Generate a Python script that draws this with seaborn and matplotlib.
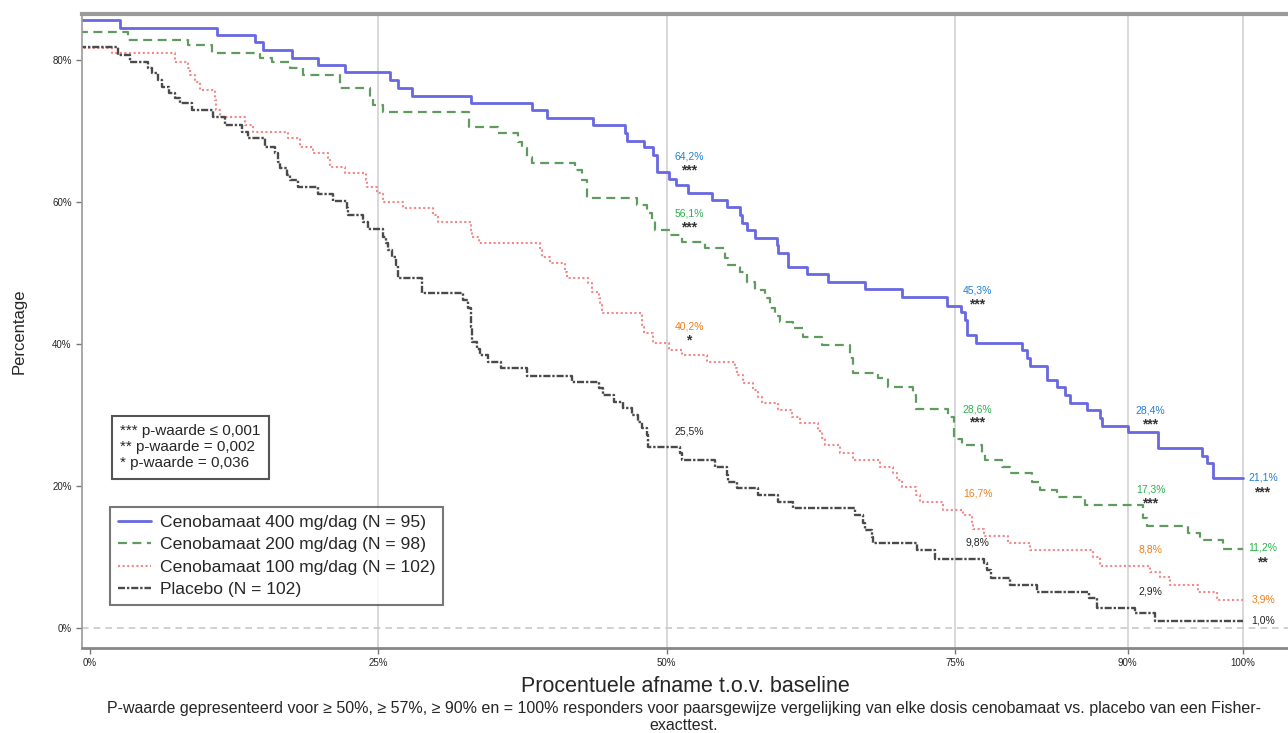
import matplotlib
matplotlib.use("Agg")
import matplotlib.pyplot as plt
import seaborn as sns
import pandas as pd

# Responder curves: x = procentuele afname, y = % patienten (stapfunctie)
x400 = [-1, 2.6, 11.0, 14.3, 15.0, 17.5, 19.8, 22.1, 26.0, 26.7, 27.9, 33.0, 38.3, 39.6, 43.6, 46.4,
        46.6, 48.0, 48.8, 49.2, 50.2, 50.8, 51.9, 53.9, 55.2, 56.4, 56.5, 57.0, 57.7, 59.6, 59.7, 60.5,
        62.2, 64.0, 67.2, 70.4, 74.3, 75.5, 75.9, 76.1, 76.8, 80.8, 81.3, 81.5, 83.0, 83.9, 84.6, 85.0,
        86.5, 87.6, 87.8, 90.0, 92.6, 96.4, 96.9, 97.4, 100]
y400 = [85.6, 84.5, 83.5, 82.5, 81.4, 80.3, 79.3, 78.3, 77.2, 76.0, 75.0, 73.9, 73.0, 71.8, 70.8, 69.7,
        68.6, 67.7, 66.6, 64.2, 63.2, 62.4, 61.3, 60.3, 59.3, 58.2, 57.0, 56.0, 54.9, 53.9, 52.8, 50.8,
        49.9, 48.7, 47.7, 46.6, 45.3, 44.5, 43.4, 41.3, 40.1, 39.2, 38.0, 36.9, 34.9, 33.9, 32.8, 31.7,
        30.7, 29.6, 28.4, 27.6, 25.4, 24.2, 23.3, 21.1, 21.1]

x200 = [-1, 3.3, 8.5, 10.6, 14.7, 15.8, 17.3, 18.5, 21.7, 24.3, 24.5, 25.4, 32.9, 35.4, 37.1, 37.5,
        37.9, 38.3, 42.1, 42.7, 43.1, 47.4, 48.3, 48.7, 49.0, 50.3, 51.3, 53.3, 55.1, 55.3, 56.4, 57.0,
        57.7, 58.5, 59.0, 59.4, 59.8, 61.0, 61.8, 63.5, 65.9, 66.2, 68.3, 69.2, 71.4, 71.6, 74.4, 74.9,
        75.6, 77.4, 77.6, 79.1, 79.8, 81.7, 82.4, 83.9, 86.3, 91.3, 91.7, 95.2, 96.3, 98.3, 100]
y200 = [83.9, 82.8, 82.1, 81.0, 80.3, 79.7, 78.9, 77.9, 76.0, 74.8, 73.7, 72.7, 70.6, 69.7, 68.5, 67.6,
        66.3, 65.5, 64.5, 63.1, 60.6, 59.6, 58.5, 57.5, 56.1, 55.4, 54.4, 53.5, 52.1, 51.1, 50.1, 48.7,
        47.6, 46.5, 45.1, 44.0, 43.1, 42.3, 41.0, 39.9, 38.0, 35.9, 35.2, 33.9, 32.8, 30.8, 29.7, 26.6,
        25.8, 24.6, 23.7, 22.7, 21.8, 20.6, 19.4, 18.5, 17.3, 15.5, 14.4, 13.4, 12.4, 11.2, 11.2]

x100 = [-1, 1.9, 7.4, 8.5, 8.7, 9.1, 9.5, 10.8, 10.9, 11.3, 13.4, 14.1, 17.2, 18.2, 19.3, 20.6, 20.8,
        22.1, 23.9, 24.0, 24.9, 25.4, 27.1, 29.7, 30.2, 33.0, 33.1, 33.7, 39.0, 39.2, 39.9, 41.2, 41.4,
        43.2, 43.5, 44.1, 44.2, 44.4, 47.9, 48.0, 48.8, 50.2, 51.3, 53.5, 55.9, 56.1, 56.6, 57.5, 57.9,
        58.3, 59.7, 60.9, 61.6, 63.1, 63.5, 63.7, 65.0, 66.2, 68.5, 69.6, 70.0, 70.4, 71.6, 72.0, 74.0,
        75.7, 76.5, 76.6, 77.5, 79.6, 81.5, 87.0, 87.6, 91.9, 92.8, 93.7, 96.1, 97.7, 100]
y100 = [81.7, 81.0, 79.7, 78.9, 77.9, 76.9, 75.8, 74.4, 73.0, 72.0, 70.8, 69.9, 69.0, 67.7, 66.9, 66.2,
        64.9, 64.1, 63.1, 62.1, 61.3, 60.0, 59.2, 58.2, 57.2, 56.1, 55.1, 54.2, 53.2, 52.3, 51.4, 50.1,
        49.3, 48.6, 47.3, 46.5, 45.5, 44.4, 42.4, 41.5, 40.2, 39.2, 38.5, 37.5, 36.6, 35.6, 34.5, 33.6,
        32.5, 31.7, 30.7, 29.7, 28.9, 27.7, 26.8, 25.8, 24.7, 23.7, 22.7, 21.8, 20.8, 19.9, 18.8, 17.7,
        16.7, 15.9, 14.9, 13.9, 13.0, 12.0, 11.0, 10.0, 8.8, 7.9, 7.2, 6.1, 5.1, 3.9, 3.9]

xpbo = [-1, 2.4, 3.5, 5.0, 5.4, 5.9, 6.2, 6.8, 7.4, 7.8, 8.8, 10.7, 11.7, 13.2, 13.7, 15.2, 16.0, 16.3,
        16.5, 17.1, 17.3, 18.0, 19.8, 21.1, 22.3, 22.4, 23.7, 24.1, 25.4, 25.7, 25.8, 26.2, 26.5, 26.7,
        28.8, 32.3, 32.8, 33.0, 33.1, 33.6, 33.8, 34.5, 35.6, 37.9, 41.8, 44.1, 44.5, 45.4, 46.2, 47.0,
        47.5, 47.9, 48.3, 48.4, 51.2, 51.3, 54.2, 55.2, 55.3, 56.1, 57.9, 59.7, 61.0, 66.3, 67.0, 67.2,
        67.8, 67.9, 71.7, 73.3, 77.5, 77.8, 78.1, 79.8, 82.1, 86.6, 87.3, 90.6, 92.4, 100]
ypbo = [81.8, 80.7, 79.7, 78.9, 78.2, 77.2, 76.2, 75.4, 74.6, 73.9, 73.0, 72.0, 70.8, 69.9, 69.0, 67.7,
        66.9, 65.6, 64.8, 63.8, 63.1, 62.1, 61.1, 60.1, 59.2, 58.2, 57.2, 56.2, 55.1, 54.2, 53.2, 52.3,
        51.1, 49.3, 47.2, 46.2, 45.1, 42.4, 40.3, 39.3, 38.5, 37.5, 36.6, 35.5, 34.6, 33.8, 32.8, 31.8,
        31.0, 30.0, 29.0, 28.2, 27.2, 25.5, 24.6, 23.7, 22.7, 21.5, 20.6, 19.7, 18.7, 17.7, 16.9, 15.9,
        14.8, 13.8, 12.8, 12.0, 11.0, 9.8, 9.2, 8.2, 7.0, 6.1, 5.1, 4.2, 2.9, 2.1, 1.0, 1.0]

groups = ["Cenobamaat 400 mg/dag (N = 95)", "Cenobamaat 200 mg/dag (N = 98)",
          "Cenobamaat 100 mg/dag (N = 102)", "Placebo (N = 102)"]

# responderpercentages en p-waarde sterren bij >= 50%, 75%, 90% en 100%
thresholds = [50, 75, 90, 100]
lbl400 = [64.2, 45.3, 28.4, 21.1]
lbl200 = [56.1, 28.6, 17.3, 11.2]
lbl100 = [40.2, 16.7, 8.8, 3.9]
lblpbo = [25.5, 9.8, 2.9, 1.0]
stars400 = ["***", "***", "***", "***"]
stars200 = ["***", "***", "***", "**"]
stars100 = ["*", "", "", ""]
starspbo = ["", "", "", ""]

xticks = [0, 25, 50, 75, 90, 100]
yticks = [0, 20, 40, 60, 80]

line_colors = ["#6868e2", "#5f9a5f", "#f08a8a", "#4a4a4a"]
line_styles = ["-", (0, (4, 2.5)), (0, (1, 1.2)), (0, (3, 0.8, 1, 0.8))]
line_widths = [2.0, 1.6, 1.5, 1.7]
label_colors = ["#1f7fd6", "#2ab24c", "#f07d1a", "#222222"]

sns.set_style("white")
plt.rcParams["font.family"] = ["Liberation Sans", "DejaVu Sans"]

fig, ax = plt.subplots(figsize=(12.88, 7.33), dpi=100)
fig.subplots_adjust(left=0.0637, right=1.0, top=0.981, bottom=0.116)

for xv in xticks[1:]:
    ax.axvline(xv, color="#d6d6d6", lw=1.3, zorder=0)
ax.axhline(0, color="#c8c8c8", lw=1.2, ls=(0, (4, 3)), zorder=0)

series = [(x400, y400), (x200, y200), (x100, y100), (xpbo, ypbo)]
for (xs, ys), name, col, ls, lw in zip(series, groups, line_colors, line_styles, line_widths):
    df = pd.DataFrame({"afname": xs, "pct": ys})
    sns.lineplot(data=df, x="afname", y="pct", ax=ax, color=col, linestyle=ls, lw=lw,
                 drawstyle="steps-post", estimator=None, sort=False, label=name)

labels = [lbl400, lbl200, lbl100, lblpbo]
stars = [stars400, stars200, stars100, starspbo]
for vals, sts, col in zip(labels, stars, label_colors):
    for thr, v, s in zip(thresholds, vals, sts):
        txt = f"{v:.1f}".replace(".", ",") + "%"
        if thr < 100:
            lab_off, star_off = (16.5, 11.5), (16.0, 1.5)
        else:
            lab_off, star_off = (14.5, 0.5), (14.0, -10.0)
        ax.annotate(txt, xy=(thr, v), xytext=lab_off, textcoords="offset points",
                    ha="center", va="center", fontsize=7.5, color=col)
        if s:
            ax.annotate(s, xy=(thr, v), xytext=star_off, textcoords="offset points",
                        ha="center", va="center", fontsize=10, color="#333333",
                        fontweight="bold")

ax.set_xlim(-0.7, 103.9)
ax.set_ylim(-2.8, 86.5)
ax.set_xticks(xticks)
ax.set_xticklabels([f"{t}%" for t in xticks])
ax.set_yticks(yticks)
ax.set_yticklabels([f"{t}%" for t in yticks])
ax.tick_params(axis="both", labelsize=7, length=4, width=1, color="#777777",
               bottom=True, left=True)

ax.spines["right"].set_visible(False)
ax.spines["top"].set_color("#9a9a9a")
ax.spines["top"].set_linewidth(3)
ax.spines["left"].set_color("#9a9a9a")
ax.spines["left"].set_linewidth(1.2)
ax.spines["bottom"].set_color("#888888")
ax.spines["bottom"].set_linewidth(2)

ax.set_xlabel("Procentuele afname t.o.v. baseline", fontsize=15.5)
ax.xaxis.set_label_coords(0.5, -0.044)
ax.set_ylabel("Percentage", fontsize=12)
ax.yaxis.set_label_coords(-0.046, 0.5)

leg = ax.legend(loc="lower left", bbox_to_anchor=(0.0232, 0.068), borderaxespad=0,
                fontsize=12.6, frameon=True, fancybox=False, edgecolor="#555555",
                handlelength=1.9, handletextpad=0.5, labelspacing=0.4, borderpad=0.45)
leg.get_frame().set_linewidth(1.5)

ax.text(0.0315, 0.353, "*** p-waarde ≤ 0,001\n** p-waarde = 0,002\n* p-waarde = 0,036",
        transform=ax.transAxes, ha="left", va="top", fontsize=11, linespacing=1.18,
        bbox=dict(boxstyle="square,pad=0.55", fc="white", ec="#555555", lw=1.5))

fig.text(0.531, 1 - 709 / 733,
         "P-waarde gepresenteerd voor ≥ 50%, ≥ 57%, ≥ 90% en = 100% responders voor paarsgewijze "
         "vergelijking van elke dosis cenobamaat vs. placebo van een Fisher-",
         ha="center", va="center", fontsize=11.5)
fig.text(0.531, 1 - 725 / 733, "exacttest.", ha="center", va="center", fontsize=11.5)

fig.savefig("out.png", dpi=100)
